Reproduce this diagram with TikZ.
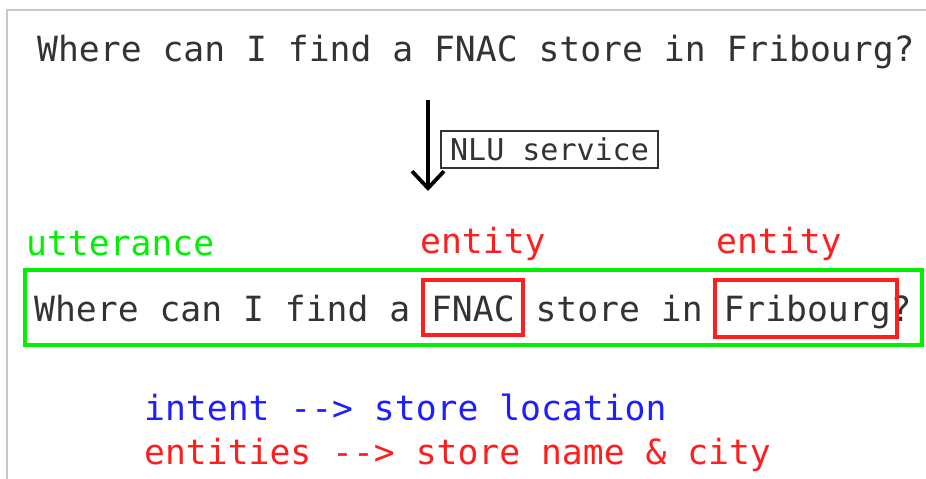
\documentclass[tikz,border=0pt]{standalone}
\usepackage{fontspec}
\setmonofont{DejaVu Sans Mono}
\usetikzlibrary{arrows.meta}
\definecolor{ugreen}{RGB}{0,240,0}
\definecolor{ered}{RGB}{255,30,30}
\definecolor{iblue}{RGB}{30,30,255}
\definecolor{frame}{RGB}{200,200,200}
\tikzset{
  big/.style={font=\ttfamily\fontsize{34.7}{40}\selectfont, inner sep=0pt, anchor=base west},
  small/.style={font=\ttfamily\fontsize{30}{34}\selectfont},
  wordbox/.style={draw=ered, line width=3.6pt, inner sep=0pt},
}
\begin{document}
\begin{tikzpicture}[x=1pt,y=-1pt]
\useasboundingbox (0,0) rectangle (926,479);
\fill[white] (0,0) rectangle (926,479);
\draw[frame, line width=1.2pt] (7,479) -- (7,10) -- (926,10);

\node[big, text=black!80] (q1) at (37,61) {Where can I find a FNAC store in Fribourg?};

\coordinate (a1) at (428,100);
\coordinate (a2) at (428,191);
\draw[line width=3.8pt, -{Straight Barb[length=17pt,width=32pt,line width=3.8pt]}] (a1) -- (a2);
\node[small, draw=black!80, line width=1.2pt, minimum width=217pt, minimum height=37pt, inner sep=0pt, text=black!80] (nlu) at (549.5,149.5) {NLU service};

\node[big, text=ugreen] (utt) at (26,255) {utterance};
\node[big, text=ered] (e1) at (420,253) {entity};
\node[big, text=ered] (e2) at (716,253) {entity};

\node[draw=ugreen, line width=3.5pt, minimum width=897pt, minimum height=75pt, inner sep=0pt] (ubox) at (473.5,307.5) {};
\node[big, text=black!80] (q2) at (34,321) {Where can I find a FNAC store in Fribourg?};
\node[wordbox, minimum width=100pt, minimum height=55pt] (fnac) at (473,307.5) {};
\node[wordbox, minimum width=182pt, minimum height=57pt] (frib) at (806,308.5) {};

\node[big, text=iblue] (intent) at (144,420) {intent --> store location};
\node[big, text=ered] (ents) at (144,464) {entities --> store name \& city};
\end{tikzpicture}
\end{document}
